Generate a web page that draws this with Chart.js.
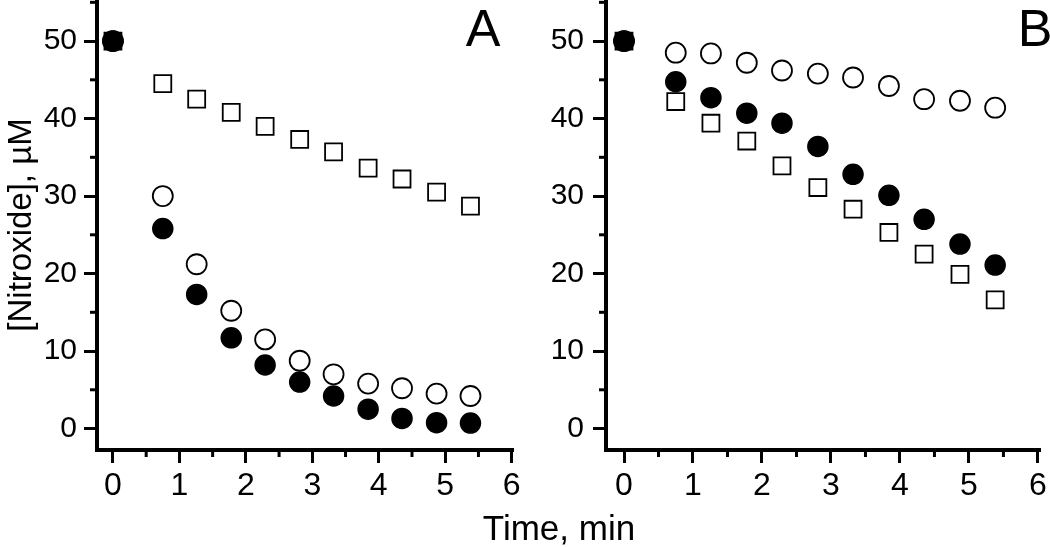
<!DOCTYPE html>
<html>
<head>
<meta charset="utf-8">
<script src="https://cdn.jsdelivr.net/npm/chart.js@4.4.0/dist/chart.umd.min.js"></script>
<style>
  html, body { margin: 0; padding: 0; background: #fff; overflow: hidden; }
  body { width: 1050px; height: 547px; position: relative; font-family: "Liberation Sans", Arial, sans-serif; }
  canvas { position: absolute; top: 0; }
  #cA { left: 0; }
  #cB { left: 540px; }
  .lbl { position: absolute; color: #000; white-space: nowrap; text-align: center; }
  #panelA { font-size: 52px; line-height: 60px; top: -2px; left: 433px; width: 100px; }
  #panelB { font-size: 52px; line-height: 60px; top: -2px; left: 985px; width: 100px; }
  #xTitle { font-size: 35px; line-height: 40px; top: 508px; left: 409px; width: 300px; }
</style>
</head>
<body>
<canvas id="cA" width="540" height="547"></canvas>
<canvas id="cB" width="510" height="547"></canvas>
<div class="lbl" id="panelA">A</div>
<div class="lbl" id="panelB">B</div>
<div class="lbl" id="xTitle">Time, min</div>
<script>
// ---- data ----
const times = [0, 0.75, 1.26, 1.78, 2.29, 2.81, 3.32, 3.84, 4.35, 4.87, 5.38];

const aSquares = [50, 44.5, 42.5, 40.8, 39.0, 37.3, 35.7, 33.6, 32.2, 30.5, 28.7];
const aOpen    = [50, 30.0, 21.2, 15.2, 11.5, 8.75, 7.0, 5.8, 5.2, 4.5, 4.2];
const aFilled  = [50, 25.8, 17.3, 11.7, 8.2, 6.0, 4.2, 2.5, 1.3, 0.75, 0.7];

const bSquares = [50, 42.2, 39.4, 37.1, 33.9, 31.1, 28.3, 25.3, 22.5, 19.9, 16.6];
const bOpen    = [50, 48.5, 48.4, 47.2, 46.2, 45.8, 45.3, 44.2, 42.5, 42.3, 41.4];
const bFilled  = [50, 44.75, 42.7, 40.7, 39.4, 36.4, 32.8, 30.1, 27.0, 23.8, 21.1];

const xTicks = [0, 1, 2, 3, 4, 5, 6];
const xMinorTicks = [0.5, 1.5, 2.5, 3.5, 4.5, 5.5];
const yTicks = [0, 10, 20, 30, 40, 50];
const yMinorTicks = [5, 15, 25, 35, 45, 55];

const yTitleText = '[Nitroxide], \u00B5M';

// ---- helpers ----
const FONT = '"Liberation Sans", Arial, sans-serif';
function pts(ys) { return ys.map((v, i) => ({ x: times[i], y: v })); }

const minorTickPlugin = {
  id: 'minorTicks',
  afterDraw(chart) {
    const ctx = chart.ctx;
    const xs = chart.scales.x, ys = chart.scales.y;
    ctx.save();
    ctx.strokeStyle = '#000';
    ctx.lineWidth = 3;
    xMinorTicks.forEach(v => {
      const px = xs.getPixelForValue(v);
      ctx.beginPath();
      ctx.moveTo(px, xs.top);
      ctx.lineTo(px, xs.top + 7);
      ctx.stroke();
    });
    yMinorTicks.forEach(v => {
      const py = ys.getPixelForValue(v);
      if (py < ys.top - 1) return;
      ctx.beginPath();
      ctx.moveTo(ys.right - 7, py);
      ctx.lineTo(ys.right, py);
      ctx.stroke();
    });
    ctx.restore();
  }
};

function makeChart(id, filled, open, squares, cfg) {
  const ds = [
    { data: pts(filled), pointStyle: 'circle', pointRadius: 10, pointBorderWidth: 1.5,
      pointBackgroundColor: '#000', pointBorderColor: '#000' },
    { data: pts(open), pointStyle: 'circle', pointRadius: 10, pointBorderWidth: 1.8,
      pointBackgroundColor: '#fff', pointBorderColor: '#000' },
    { data: pts(squares), pointStyle: 'rect', pointRadius: 12, pointBorderWidth: 1.8,
      pointBackgroundColor: '#fff', pointBorderColor: '#000' }
  ];
  return new Chart(document.getElementById(id), {
    type: 'scatter',
    data: { datasets: ds.map(d => Object.assign({ showLine: false, pointHoverRadius: d.pointRadius, clip: false }, d)) },
    options: {
      responsive: false,
      animation: false,
      devicePixelRatio: 1,
      layout: { autoPadding: false, padding: { top: 0, left: 0, bottom: 0, right: cfg.padRight } },
      plugins: { legend: { display: false }, tooltip: { enabled: false }, title: { display: false } },
      scales: {
        x: {
          type: 'linear', min: cfg.xMin, max: cfg.xMax,
          afterBuildTicks(s) { s.ticks = xTicks.map(v => ({ value: v })); },
          afterFit(s) { s.height = 97; s.paddingLeft = 0; s.paddingRight = 0; },
          grid: { display: true, drawOnChartArea: false, drawTicks: true, tickLength: 13, tickWidth: 3, tickColor: '#000' },
          border: { display: true, color: '#000', width: 4 },
          ticks: { color: '#000', font: { family: FONT, size: 32 }, padding: 4, maxRotation: 0, autoSkip: false }
        },
        y: {
          type: 'linear', min: -2.77, max: 55.3,
          afterBuildTicks(s) { s.ticks = yTicks.map(v => ({ value: v })); },
          afterFit(s) { s.width = cfg.yWidth; s.paddingTop = 0; s.paddingBottom = 0; },
          grid: { display: true, drawOnChartArea: false, drawTicks: true, tickLength: 13, tickWidth: 3, tickColor: '#000' },
          border: { display: true, color: '#000', width: 4 },
          ticks: { color: '#000', font: { family: FONT, size: 30 }, padding: cfg.yPad, autoSkip: false },
          title: cfg.yTitle ? { display: true, text: yTitleText, color: '#000', font: { family: FONT, size: 33 }, padding: { top: 2, bottom: 0 } } : { display: false }
        }
      }
    },
    plugins: [minorTickPlugin]
  });
}

makeChart('cA', aFilled, aOpen, aSquares, { xMin: -0.24, xMax: 6.02, yWidth: 97, padRight: 27, yPad: 7, yTitle: true });
makeChart('cB', bFilled, bOpen, bSquares, { xMin: -0.261, xMax: 6.03, yWidth: 66, padRight: 10, yPad: 9, yTitle: false });
</script>
</body>
</html>
